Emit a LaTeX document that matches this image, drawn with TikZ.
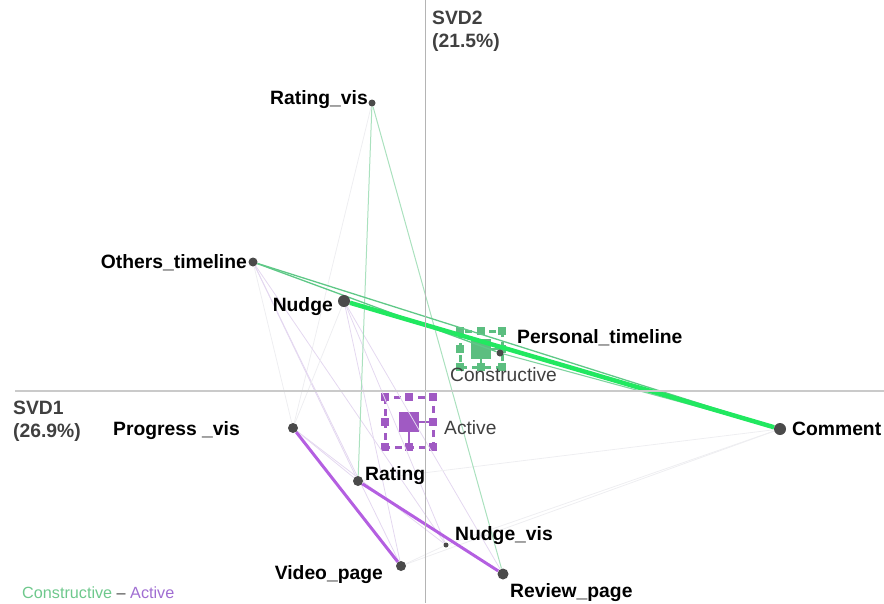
\documentclass[tikz,border=0pt]{standalone}
\usepackage{fontspec}
\setmainfont{Liberation Sans}
\usetikzlibrary{calc}

\definecolor{dotgray}{HTML}{4A4A4A}
\definecolor{axisgray}{HTML}{B4B4B4}
\definecolor{axistext}{HTML}{404040}
\definecolor{boldgreen}{RGB}{33,232,96}
\definecolor{midgreen}{RGB}{95,200,135}
\definecolor{lightgreen}{RGB}{170,225,190}
\definecolor{constgreen}{RGB}{92,190,128}
\definecolor{activepurple}{RGB}{160,90,195}
\definecolor{linepurple}{RGB}{180,95,225}
\definecolor{faintpurple}{RGB}{228,216,240}
\definecolor{faintgray}{RGB}{238,238,241}
\definecolor{leggreen}{RGB}{110,200,140}
\definecolor{legpurple}{RGB}{160,110,210}

\pgfdeclarelayer{boxes}
\pgfdeclarelayer{links}
\pgfsetlayers{boxes,links,main}

\tikzset{
  catdot/.style={circle, fill=dotgray, inner sep=0pt, minimum size=#1},
  catlabel/.style={font=\bfseries\fontsize{19.3}{22}\selectfont, inner sep=0pt},
  modelabel/.style={font=\fontsize{19.2}{22}\selectfont, text=axistext, inner sep=0pt},
  axislabel/.style={font=\bfseries\fontsize{19.3}{22.5}\selectfont, text=axistext, inner sep=0pt, align=left},
  faint/.style={faintpurple, line width=0.8pt},
  fainter/.style={faintgray, line width=0.8pt}
}

% selection frame round a mode point: name, x, y, half width, half height, colour
\newcommand{\modebox}[6]{%
  \node[fill=#6, minimum size=20pt, inner sep=0pt] (#1) at (#2,#3) {};
  \draw[#6, line width=3pt, dash pattern=on 7pt off 5pt] ($(#1)+(-#4,-#5)$) rectangle ($(#1)+(#4,#5)$);
  \foreach \hx/\hy in {-1/-1,0/-1,1/-1,-1/0,1/0,-1/1,0/1,1/1}
    \fill[#6] ($(#1)+(\hx*#4,\hy*#5)$) ++(-4,-4) rectangle ++(8,8);
  \draw[#6, line width=2.5pt] (#1) -- ($(#1)+(#4,0)$);
  \draw[#6, line width=2.5pt] (#1) -- ($(#1)+(0,#5)$);
}

\begin{document}
\begin{tikzpicture}[x=1pt, y=-1pt]
  \useasboundingbox (0,0) rectangle (884,603);

  % axes
  \coordinate (ytop) at (425,0);
  \coordinate (ybot) at (425,603);
  \coordinate (xleft) at (15,391);
  \coordinate (xright) at (884,391);
  \draw[axisgray, line width=1pt] (ytop) -- (ybot);
  \draw[axisgray!70, line width=1.5pt] (xleft) -- (xright);
  \node[axislabel, anchor=base west] (svd1) at (13,437) {SVD1\\(26.9\%)};
  \node[axislabel, anchor=base west] (svd2) at (432,47) {SVD2\\(21.5\%)};

  % category points
  \node[catdot=7pt] (rvis) at (372,103) {};
  \node[catdot=9pt] (others) at (253,262) {};
  \node[catdot=12pt] (nudge) at (344,301) {};
  \node[catdot=7pt] (pers) at (500,353) {};
  \node[catdot=10pt] (prog) at (293,428) {};
  \node[catdot=10pt] (rating) at (358,481) {};
  \node[catdot=5pt] (nvis) at (446,545) {};
  \node[catdot=10pt] (video) at (401,566) {};
  \node[catdot=11pt] (review) at (503,574) {};
  \node[catdot=12pt] (comment) at (780,429) {};

  % mode points
  \begin{pgfonlayer}{boxes}
    \modebox{cons}{481}{349}{21}{18}{constgreen}
    \modebox{act}{409}{422}{24}{25}{activepurple}
  \end{pgfonlayer}

  \begin{pgfonlayer}{links}
    % faint links
    \draw[fainter] (rvis) -- (prog);
    \draw[fainter] (others) -- (prog);
    \draw[faint] (others) -- (video);
    \draw[faint] (others) -- (nvis);
    \draw[faint] (others) -- (rating);
    \draw[fainter] (nudge) -- (prog);
    \draw[faint] (nudge) -- (video);
    \draw[faint] (nudge) -- (nvis);
    \draw[faint] (nudge) -- (review);
    \draw[faint] (prog) -- (rating);
    \draw[faint] (prog) -- (nvis);
    \draw[fainter] (video) -- (nvis);
    \draw[fainter] (video) -- (comment);
    \draw[fainter] (nvis) -- (comment);
    \draw[fainter] (rating) -- (comment);

    % constructive links
    \draw[lightgreen, line width=1pt] (rvis) -- (rating);
    \draw[lightgreen, line width=1pt] (rvis) -- (review);
    \draw[midgreen, line width=1.3pt] (others) -- (pers);
    \draw[midgreen, line width=1.3pt] (others) -- (comment);
    \draw[midgreen!80, line width=1.1pt] (pers) -- (comment);
    \draw[boldgreen, line width=4.5pt] (nudge) -- (comment);

    % active links
    \draw[linepurple, line width=3pt] (prog) -- (video);
    \draw[linepurple, line width=3pt] (rating) -- (review);
  \end{pgfonlayer}

  % labels
  \node[catlabel, anchor=base east] (rvis-l) at (368,104) {Rating\_vis};
  \node[catlabel, anchor=base east] (others-l) at (247,268) {Others\_timeline};
  \node[catlabel, anchor=base east] (nudge-l) at (333,311) {Nudge};
  \node[catlabel, anchor=base west] (pers-l) at (517,343) {Personal\_timeline};
  \node[catlabel, anchor=base east] (prog-l) at (240,435) {Progress \_vis};
  \node[catlabel, anchor=base west] (rating-l) at (365,480) {Rating};
  \node[catlabel, anchor=base west] (nvis-l) at (455,540) {Nudge\_vis};
  \node[catlabel, anchor=base east] (video-l) at (383,579) {Video\_page};
  \node[catlabel, anchor=base west] (review-l) at (510,597) {Review\_page};
  \node[catlabel, anchor=base west] (comment-l) at (792,435) {Comment};
  \node[modelabel, anchor=base west] (cons-l) at (450,381) {Constructive};
  \node[modelabel, anchor=base west] (act-l) at (444,434) {Active};

  % legend
  \node[anchor=base west, inner sep=0pt, font=\fontsize{16.2}{19}\selectfont] (legend) at (22,598)
    {\textcolor{leggreen}{Constructive} \textcolor{axistext}{--} \textcolor{legpurple}{Active}};
\end{tikzpicture}
\end{document}
